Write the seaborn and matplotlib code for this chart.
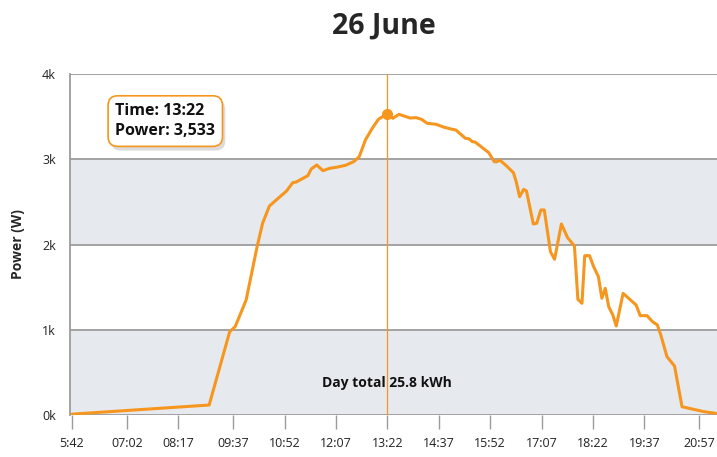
import matplotlib
matplotlib.use("Agg")
import matplotlib.pyplot as plt
import matplotlib.patheffects as pe
import seaborn as sns
import pandas as pd

# times in minutes after midnight, power in W
minutes = [342, 542, 572, 580, 596, 612, 620, 630, 655, 664, 669, 686, 691, 699,
           708, 718, 727, 741, 753, 761, 770, 780, 789, 802, 810, 819, 835, 844,
           852, 860, 873, 885, 897, 902, 916, 921, 926, 930, 940, 950, 958, 962,
           966, 976, 986, 990, 995, 1001, 1005, 1015, 1020, 1026, 1031, 1040,
           1046, 1056, 1065, 1075, 1080, 1086, 1090, 1097, 1103, 1110, 1115,
           1120, 1125, 1131, 1136, 1146, 1165, 1171, 1181, 1189, 1196, 1201,
           1210, 1221, 1232, 1264, 1281]
power = [10, 117, 977, 1036, 1349, 1975, 2249, 2452, 2628, 2725, 2733, 2807,
         2886, 2933, 2866, 2894, 2905, 2929, 2972, 3030, 3226, 3363, 3469, 3533,
         3480, 3527, 3484, 3488, 3468, 3422, 3410, 3375, 3351, 3343, 3245, 3241,
         3206, 3202, 3140, 3077, 2971, 2971, 2991, 2921, 2842, 2737, 2561, 2647,
         2628, 2241, 2249, 2405, 2405, 1916, 1827, 2241, 2080, 1983, 1357, 1310,
         1869, 1869, 1740, 1622, 1369, 1486, 1270, 1173, 1044, 1427, 1290, 1165,
         1165, 1094, 1056, 938, 684, 575, 97, 39, 20]

tick_minutes = [342, 422, 497, 577, 652, 727, 802, 877, 952, 1027, 1102, 1177, 1257]
tick_labels = ["5:42", "07:02", "08:17", "09:37", "10:52", "12:07", "13:22",
               "14:37", "15:52", "17:07", "18:22", "19:37", "20:57"]
y_ticks = [0, 1000, 2000, 3000, 4000]
y_labels = ["0k", "1k", "2k", "3k", "4k"]

peak_time = 802
peak_power = 3533

df = pd.DataFrame({"minute": minutes, "power": power})

sns.set_style("white")
plt.rcParams["font.family"] = ["Open Sans", "DejaVu Sans"]

orange = "#f7961e"
grid_col = "#9c9c9c"
band_col = "#e6e9ee"

fig = plt.figure(figsize=(7.17, 4.57), dpi=100)
ax = fig.add_axes([70 / 717, 42 / 457, 647 / 717, 341 / 457])

for lo, hi in [(0, 1000), (2000, 3000)]:
    ax.axhspan(lo, hi, color=band_col, zorder=0, lw=0)
for y in y_ticks:
    ax.axhline(y, color=grid_col, lw=1.3, zorder=1)

ax.axvline(peak_time, color=orange, lw=0.9, zorder=2)
sns.lineplot(data=df, x="minute", y="power", color=orange, lw=2.2, ax=ax, zorder=3)
ax.plot([peak_time], [peak_power], "o", color=orange, ms=7, zorder=4)

ax.set_xlim(339, 1283)
ax.set_ylim(0, 4000)
ax.set_xticks(tick_minutes)
ax.set_xticklabels(tick_labels, fontsize=9, color="#222222")
ax.set_yticks(y_ticks)
ax.set_yticklabels(y_labels, fontsize=9, color="#222222")
ax.tick_params(axis="x", length=10, width=1, color=grid_col, pad=6, direction="out", bottom=True)
ax.tick_params(axis="y", length=0, pad=10)
ax.set_xlabel("")
ax.set_ylabel("Power (W)", fontsize=10, fontweight="bold", labelpad=12)

for side in ["top", "right", "bottom"]:
    ax.spines[side].set_visible(False)
ax.spines["left"].set_color(grid_col)
ax.spines["left"].set_linewidth(1.3)

fig.suptitle("26 June", x=0.535, fontsize=20.5, fontweight="bold", y=0.975)

# tooltip
tip = ax.text(0.07, 0.915, "Time: 13:22\nPower: 3,533", transform=ax.transAxes,
              fontsize=11.5, fontweight="bold", va="top", ha="left", color="#111111",
              linespacing=1.35,
              bbox=dict(boxstyle="round,pad=0.45,rounding_size=0.6", fc="white",
                        ec=orange, lw=1.2), zorder=6)
tip.get_bbox_patch().set_path_effects(
    [pe.SimplePatchShadow(offset=(2, -3), alpha=0.2), pe.Normal()])

ax.text(peak_time, 370, "Day total 25.8 kWh", ha="center", va="center",
        fontsize=10, fontweight="bold", color="#111111", zorder=5)

fig.savefig("out.png", dpi=100)
